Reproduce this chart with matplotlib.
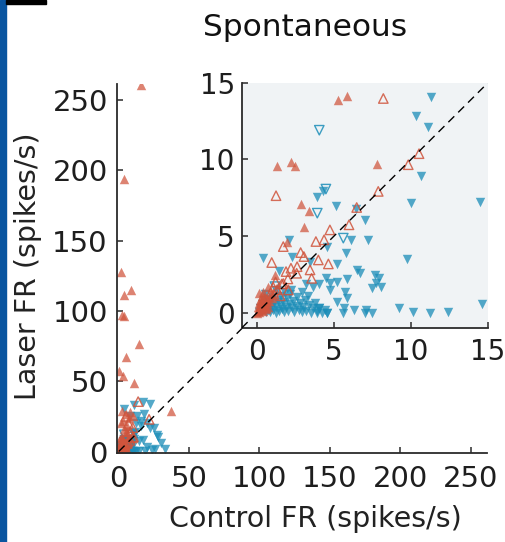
import matplotlib
matplotlib.use("Agg")
import matplotlib.pyplot as plt
from matplotlib.patches import Rectangle

plt.rcParams['font.family'] = ['DejaVu Sans']

# ---- data: (control FR, laser FR) in spikes/s ----
# red filled: laser increased (significant)
red_fill_x = [16.2, 3.6, 1.3, 8.6, 3.9, 2.7, 3.9, 14.5, 5.5, 0.3, 3.1, 11.0, 37.5,
              2.0, 5.0, 8.0, 10.0, 3.0, 6.0, 4.0, 1.5, 7.0,
              5.27, 5.86, 1.31, 2.18, 2.46, 7.76, 2.83, 3.37, 3.04, 1.96, 0.73, 1.16,
              0.05, 0.1, 0.15, 0.2, 0.25, 0.3, 0.35, 0.4, 0.45, 0.5, 0.55, 0.6, 0.65,
              0.7, 0.75, 0.8, 0.9, 1.0, 0.2, 0.3, 0.1, 0.0, 0.05, 0.15, 0.4, 0.6, 0.35]
red_fill_y = [261.0, 194.0, 128.0, 115.0, 111.5, 97.3, 96.6, 76.6, 67.0, 57.6, 53.8, 48.6, 29.0,
              29.0, 27.0, 28.0, 25.0, 22.0, 18.0, 16.0, 20.0, 24.0,
              13.9, 14.16, 9.54, 9.8, 9.59, 9.67, 7.06, 6.6, 5.58, 4.64, 1.7, 2.46,
              0.1, 0.3, 0.05, 0.45, 0.2, 0.6, 0.35, 0.1, 0.75, 0.5, 0.25, 0.9, 0.6,
              0.4, 1.0, 0.75, 1.2, 0.95, 0.8, 1.1, 0.6, 0.0, 0.35, 1.3, 1.35, 0.3, 0.85]

# red open: laser increased (n.s.)
red_open_x = [13.8, 21.6, 7.0, 10.0, 5.0,
              8.2, 10.52, 9.82, 1.23, 7.87, 6.47, 5.97, 4.73, 4.35, 3.82, 1.7, 2.83, 3.04,
              0.95, 3.98, 4.63, 3.54, 1.88, 1.6, 2.03, 2.57, 3.44,
              0.3, 0.6, 0.9, 1.1, 1.3, 0.5, 1.5, 1.2, 1.7, 2.0, 2.2, 2.6, 1.05]
red_open_y = [35.5, 22.9, 20.0, 17.0, 25.0,
              13.97, 10.37, 9.65, 7.63, 7.91, 6.86, 5.73, 5.4, 4.75, 4.64, 4.31, 3.92, 3.66,
              3.27, 3.44, 3.18, 2.24, 2.68, 1.87, 1.48, 2.57, 2.79,
              0.5, 0.8, 1.3, 1.2, 1.5, 0.9, 1.1, 2.0, 1.9, 2.2, 2.9, 3.0, 1.65]

# blue filled: laser decreased (significant)
blue_fill_x = [11.0, 17.4, 22.0, 4.0, 18.0, 13.0, 20.0, 25.0, 22.1, 28.0, 16.0, 30.0,
               20.0, 24.0, 17.0, 19.0, 26.0, 15.5, 12.0, 8.0, 33.0, 27.0,
               11.3, 10.3, 11.1, 10.62, 14.47, 9.97, 9.76, 14.58, 12.42, 11.23, 10.1, 9.21,
               7.44, 7.0, 7.07, 6.31, 5.56, 5.66, 4.52, 3.91, 4.04, 5.13, 3.91, 4.26, 7.0,
               6.42, 7.23, 6.08, 5.77, 5.17, 4.52, 2.07, 0.4, 1.44, 2.24, 6.47, 6.69, 7.66,
               7.94, 8.02, 7.44, 7.72, 5.86, 5.17, 4.73, 4.73, 4.04, 4.47, 3.65, 5.71,
               5.82, 5.21, 3.45, 3.2,
               0.15, 0.22, 0.3, 0.35, 0.42, 0.48, 0.55, 0.6, 0.68, 0.72, 0.8, 0.86, 0.92,
               1.0, 1.05, 1.12, 1.2, 1.25, 1.33, 1.4, 1.48, 1.55, 1.6, 1.7, 1.75, 1.85,
               1.92, 2.0, 2.08, 2.15, 2.25, 2.35, 2.42, 2.5, 2.6, 2.7, 2.8, 2.9, 3.0,
               3.1, 3.2, 3.35, 3.5, 3.6, 3.75, 3.9, 4.05, 4.2, 4.4, 4.55, 2.2, 1.3, 0.5,
               2.9, 3.3, 1.8]
blue_fill_y = [33.0, 35.5, 34.0, 30.0, 27.0, 25.0, 20.0, 17.0, 16.5, 10.0, 22.0, 6.0,
               3.0, 1.0, 8.0, 0.5, 2.0, 18.0, 20.0, 25.0, 1.5, 12.0,
               14.05, 12.85, 12.09, 8.89, 7.25, 7.15, 3.51, 0.54, 0.07, 0.0, 0.07, 0.28,
               0.0, 0.0, 0.2, 0.17, 0.0, 0.28, 0.0, 0.0, 0.28, 6.99, 7.54, 7.91, 6.06,
               6.75, 4.75, 4.75, 3.92, 3.18, 4.31, 4.75, 3.55, 2.75, 3.66, 2.79, 2.57, 2.46,
               2.24, 1.7, 1.59, 1.96, 2.18, 2.03, 1.92, 1.48, 1.87, 2.24, 1.7, 1.37,
               0.94, 0.72, 3.3, 1.9,
               0.05, 0.3, 0.55, 0.12, 0.8, 0.25, 0.02, 0.45, 0.9, 0.15, 0.6, 0.05, 0.35,
               1.05, 0.2, 0.62, 0.0, 0.4, 0.85, 0.1, 0.5, 1.1, 0.25, 0.7, 0.02, 0.38,
               0.95, 0.12, 0.55, 1.2, 0.3, 0.75, 0.05, 0.45, 1.0, 0.18, 0.6, 0.02, 0.35,
               0.85, 0.1, 0.5, 0.0, 0.3, 0.65, 0.08, 0.28, 0.0, 0.15, 0.0, 1.45, 1.5, 1.2,
               1.35, 1.1, 1.3]

# blue open: laser decreased (n.s.)
blue_open_x = [4.04, 4.47, 3.91, 5.6, 1.16]
blue_open_y = [11.9, 8.06, 6.49, 4.86, 1.7]

RED = "#d0543c"
BLUE = "#1b8db8"
INK = "#2b2b2b"


def draw_points(ax, ms):
    ax.scatter(blue_fill_x, blue_fill_y, marker="v", s=ms, color=BLUE, alpha=0.75,
               linewidths=0, zorder=2)
    ax.scatter(blue_open_x, blue_open_y, marker="v", s=ms, facecolors="none",
               edgecolors=BLUE, alpha=0.85, linewidths=1.0, zorder=2)
    ax.scatter(red_fill_x, red_fill_y, marker="^", s=ms, color=RED, alpha=0.72,
               linewidths=0, zorder=2)
    ax.scatter(red_open_x, red_open_y, marker="^", s=ms, facecolors="none",
               edgecolors=RED, alpha=0.85, linewidths=1.0, zorder=2)


def style_axes(ax, fs, pad_x, pad_y):
    for side in ["top", "right"]:
        ax.spines[side].set_visible(False)
    for side in ["left", "bottom"]:
        ax.spines[side].set_color(INK)
        ax.spines[side].set_linewidth(1.3)
    ax.tick_params(direction="in", length=4.5, width=1.1, color=INK,
                   labelsize=fs, labelcolor="#1e1e1e")
    ax.tick_params(axis="x", pad=pad_x)
    ax.tick_params(axis="y", pad=pad_y)


W, H = 506, 542
fig = plt.figure(figsize=(W / 100, H / 100), dpi=100)

# side decoration of the panel
fig.patches.append(Rectangle((0, 0), 6 / W, 1, transform=fig.transFigure,
                             color="#0a55a0", zorder=0))
fig.patches.append(Rectangle((6 / W, 1 - 4 / H), 40 / W, 4 / H,
                             transform=fig.transFigure, color="black", zorder=0))

# main axes
ax = fig.add_axes([117.5 / W, 1 - 452.7 / H, 369.2 / W, 368.7 / H])
ax.plot([0, 262], [0, 262], ls=(0, (6, 4)), color="black", lw=1.0, zorder=3)
draw_points(ax, 46)
ax.set_xlim(-0.85, 261.5)
ax.set_ylim(-0.85, 261.5)
ax.set_xticks([0, 50, 100, 150, 200, 250])
ax.set_yticks([0, 50, 100, 150, 200, 250])
style_axes(ax, 21, 9, 7)

# inset
ins = fig.add_axes([241.7 / W, 1 - 328 / H, 246.3 / W, 245.3 / H])
ins.set_facecolor("#f0f3f5")
ins.plot([-1, 15], [-1, 15], ls=(0, (6, 4)), color="black", lw=1.0, zorder=3)
draw_points(ins, 46)
ins.set_xlim(-1, 15)
ins.set_ylim(-1, 15)
ins.set_xticks([0, 5, 10, 15])
ins.set_yticks([0, 5, 10, 15])
style_axes(ins, 20, 7, 5)

fig.text(305 / W, 1 - 27 / H, "Spontaneous", ha="center", va="center",
         fontsize=22.5, color="#111111")
fig.text(315 / W, 1 - 519 / H, "Control FR (spikes/s)", ha="center", va="center",
         fontsize=20.5, color="#222222")
fig.text(28 / W, 1 - 266 / H, "Laser FR (spikes/s)", ha="center", va="center",
         rotation=90, fontsize=20.5, color="#222222")

fig.savefig("out.png", dpi=100)
